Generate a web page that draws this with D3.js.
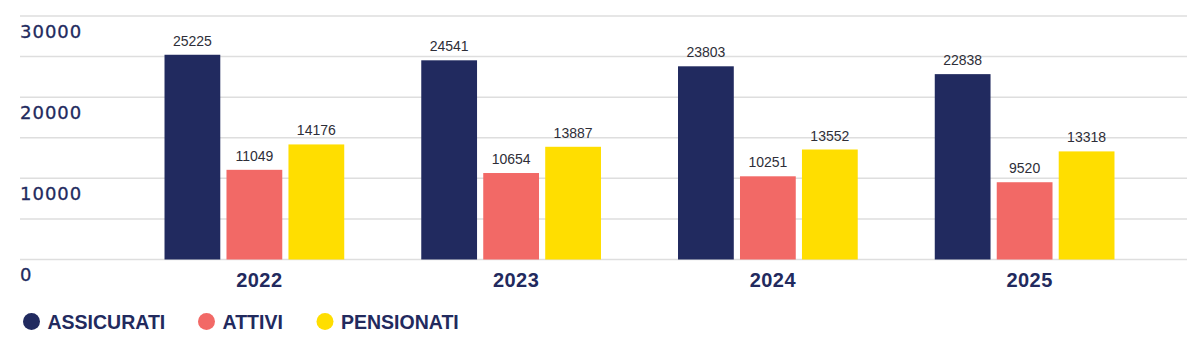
<!DOCTYPE html>
<html>
<head>
<meta charset="utf-8">
<script src="https://cdn.jsdelivr.net/npm/d3@7"></script>
<style>
  html, body { margin: 0; padding: 0; background: #ffffff; }
  svg { display: block; }
</style>
</head>
<body>
<svg id="chart" width="1200" height="340"></svg>
<script>
// Years and series
const years = ["2022", "2023", "2024", "2025"];
const seriesNames = ["ASSICURATI", "ATTIVI", "PENSIONATI"];
const assicurati = [25225, 24541, 23803, 22838];
const attivi = [11049, 10654, 10251, 9520];
const pensionati = [14176, 13887, 13552, 13318];
const gridValues = [0, 5000, 10000, 15000, 20000, 25000, 30000];
const tickValues = [0, 10000, 20000, 30000];
const tickLabels = ["0", "10000", "20000", "30000"];

const colors = { ASSICURATI: "#212a5f", ATTIVI: "#f26966", PENSIONATI: "#ffde00" };
const navy = "#222a5e";

const seriesData = { ASSICURATI: assicurati, ATTIVI: attivi, PENSIONATI: pensionati };
const rows = years.map((yr, i) => ({
  year: yr,
  values: seriesNames.map(s => ({ key: s, value: seriesData[s][i] }))
}));

const svg = d3.select("#chart");

const y = d3.scaleLinear().domain([0, 30000]).range([259.5, 16]);
const x0 = d3.scaleBand().domain(years).range([126, 1153]).paddingInner(0.3).paddingOuter(0.15);
const x1 = d3.scaleBand().domain(seriesNames).range([0, x0.bandwidth()]).paddingInner(0.1);

// Horizontal gridlines
svg.append("g")
  .selectAll("line")
  .data(gridValues)
  .join("line")
  .attr("x1", 20).attr("x2", 1187)
  .attr("y1", d => y(d)).attr("y2", d => y(d))
  .attr("stroke", "#dedede")
  .attr("stroke-width", 1.5);

// Y labels sit just under their gridline
svg.append("g")
  .selectAll("text")
  .data(tickValues)
  .join("text")
  .attr("x", 20)
  .attr("y", d => y(d) + 15)
  .attr("dominant-baseline", "central")
  .attr("font-family", "DejaVu Sans, sans-serif")
  .attr("font-size", 18)
  .attr("letter-spacing", 1)
  .attr("fill", navy)
  .attr("stroke", navy)
  .attr("stroke-width", 0.3)
  .text((d, i) => tickLabels[i]);

// Bars
const groups = svg.append("g")
  .selectAll("g")
  .data(rows)
  .join("g")
  .attr("transform", d => `translate(${x0(d.year)},0)`);

groups.selectAll("rect")
  .data(d => d.values)
  .join("rect")
  .attr("x", d => x1(d.key))
  .attr("y", d => y(d.value))
  .attr("width", x1.bandwidth())
  .attr("height", d => y(0) - y(d.value))
  .attr("fill", d => colors[d.key]);

// Value labels above bars
groups.selectAll("text.val")
  .data(d => d.values)
  .join("text")
  .attr("class", "val")
  .attr("x", d => x1(d.key) + x1.bandwidth() / 2)
  .attr("y", d => y(d.value) - 14)
  .attr("text-anchor", "middle")
  .attr("dominant-baseline", "central")
  .attr("font-family", "Liberation Sans, Arial, sans-serif")
  .attr("font-size", 14)
  .attr("fill", "#2e2e38")
  .text(d => d.value);

// Year labels
svg.append("g")
  .selectAll("text")
  .data(years)
  .join("text")
  .attr("x", d => x0(d) + x0.bandwidth() / 2 + 5)
  .attr("y", 280)
  .attr("text-anchor", "middle")
  .attr("dominant-baseline", "central")
  .attr("font-family", "Liberation Sans, Arial, sans-serif")
  .attr("font-weight", "bold")
  .attr("font-size", 20)
  .attr("letter-spacing", 0.5)
  .attr("fill", navy)
  .text(d => d);

// Legend
const legendX = [31.5, 206.5, 325];
const legend = svg.append("g")
  .selectAll("g")
  .data(seriesNames)
  .join("g")
  .attr("transform", (d, i) => `translate(${legendX[i]},321.5)`);

legend.append("circle")
  .attr("r", 8.5)
  .attr("fill", d => colors[d]);

legend.append("text")
  .attr("x", 16)
  .attr("dominant-baseline", "central")
  .attr("font-family", "Liberation Sans, Arial, sans-serif")
  .attr("font-weight", "bold")
  .attr("font-size", 19.5)
  .attr("fill", navy)
  .text(d => d);
</script>
</body>
</html>
